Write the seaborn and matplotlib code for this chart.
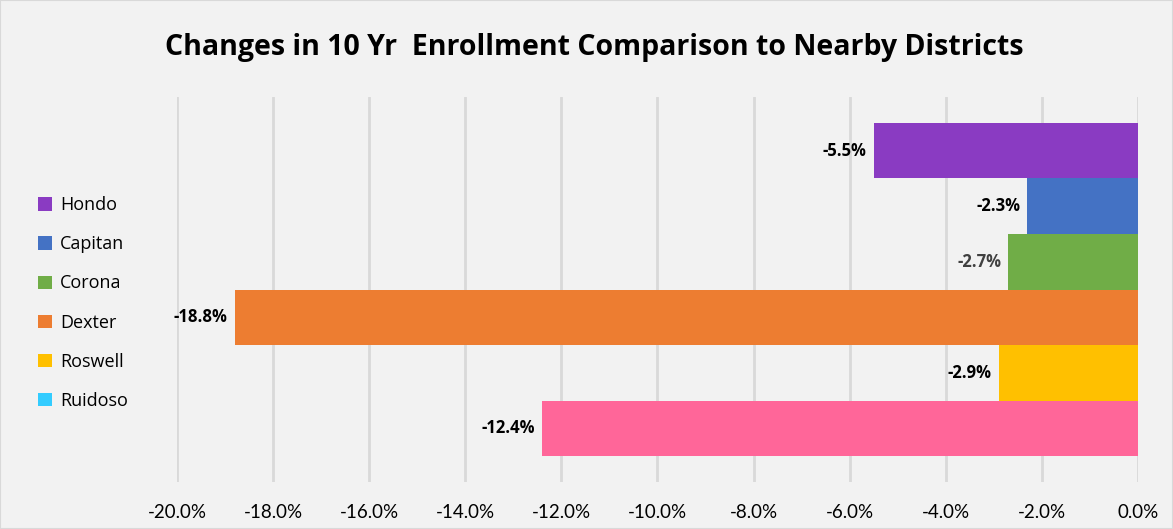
import numpy as np
import pandas as pd
import matplotlib
matplotlib.use("Agg")
import matplotlib.pyplot as plt
from matplotlib.patches import Patch, Rectangle
import seaborn as sns

#Data
districts = ["Hondo", "Capitan", "Corona", "Dexter", "Roswell", "Ruidoso"]
changes = [-0.055, -0.023, -0.027, -0.188, -0.029, -0.124]
bar_colors = ["#8A3BC2", "#4472C4", "#70AD47", "#ED7D31", "#FFC000", "#FF6699"]
legend_colors = ["#8A3BC2", "#4472C4", "#70AD47", "#ED7D31", "#FFC000", "#33CCFF"]
label_colors = ["#000000", "#000000", "#404040", "#000000", "#000000", "#000000"]
xticks = [-0.20, -0.18, -0.16, -0.14, -0.12, -0.10, -0.08, -0.06, -0.04, -0.02, 0.0]

df = pd.DataFrame({"district": districts, "change": changes})

sns.set_theme(style="white")
plt.rcParams["font.family"] = ["Lato", "DejaVu Sans"]

bg = "#F2F2F2"
fig = plt.figure(figsize=(11.73, 5.29), dpi=100, facecolor=bg)
ax = fig.add_axes([177/1173, 1-482/529, (1138-177)/1173, (482-97)/529])
ax.set_facecolor(bg)

sns.barplot(data=df, x="change", y="district", hue="district", palette=bar_colors,
            orient="h", width=1.0, legend=False, ax=ax, saturation=1, linewidth=0)

ax.set_xlim(-0.20, 0.0)
ax.set_ylim(5.5 + 0.467, -0.5 - 0.467)
ax.set_xticks(xticks)
ax.set_xticklabels(["{:.1f}%".format(t*100) for t in xticks], fontsize=13.5, color="#000000")
ax.set_yticks([])
ax.set_xlabel("")
ax.set_ylabel("")
ax.grid(axis="x", color="#D9D9D9", linewidth=2)
ax.set_axisbelow(True)
for s in ax.spines.values():
    s.set_visible(False)
ax.tick_params(axis="x", length=0, pad=16)

#Data labels left of each bar end
for i, (v, c) in enumerate(zip(changes, label_colors)):
    ax.text(v - 0.0015, i, "{:.1f}%".format(v*100), ha="right", va="center",
            fontsize=12, fontweight="bold", color=c,
            family=["Open Sans", "DejaVu Sans"])

#Legend (Ruidoso entry keeps its own colour as in the original)
handles = [Patch(facecolor=c, edgecolor="none") for c in legend_colors]
fig.legend(handles, districts, loc="center left", bbox_to_anchor=(22/1173, 1-303/529),
           frameon=False, handlelength=0.75, handleheight=0.75,
           labelspacing=1.17, handletextpad=0.45, labelcolor="#000000",
           prop={"family": ["Open Sans", "DejaVu Sans"], "size": 13})

fig.text(594/1173, 1-48/529, "Changes in 10 Yr  Enrollment Comparison to Nearby Districts",
         ha="center", va="center", fontsize=20.5, fontweight="bold", color="#000000",
         family=["Open Sans", "DejaVu Sans"])

fig.patches.append(Rectangle((0, 0), 1, 1, transform=fig.transFigure, fill=False,
                             edgecolor="#D9D9D9", linewidth=1.5))

fig.savefig("out.png", dpi=100, facecolor=bg)
